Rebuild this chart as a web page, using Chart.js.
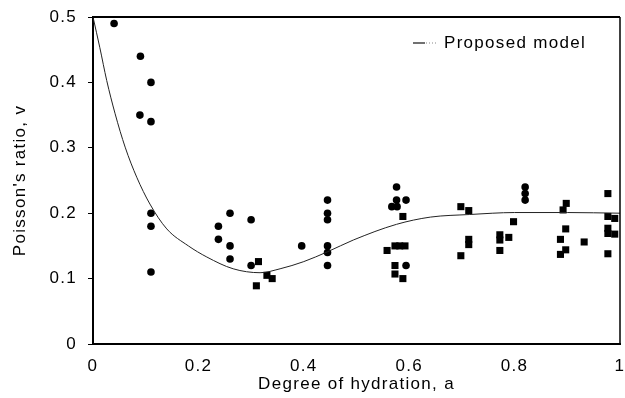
<!DOCTYPE html>
<html>
<head>
<meta charset="utf-8">
<script src="https://cdn.jsdelivr.net/npm/chart.js@4.4.1/dist/chart.umd.min.js"></script>
<style>
  html, body { margin: 0; padding: 0; background: #fff; }
  #wrap { width: 625px; height: 398px; }
</style>
</head>
<body>
<div id="wrap"><canvas id="chart" width="625" height="398"></canvas></div>
<script>
// measured points, circles
const circleAlpha = [0.04, 0.09, 0.11, 0.089, 0.11, 0.11, 0.11, 0.11, 0.238, 0.26, 0.238, 0.26, 0.26, 0.30, 0.30,
    0.396, 0.445, 0.445, 0.445, 0.445, 0.445, 0.445, 0.576, 0.576, 0.594, 0.567, 0.577, 0.594, 0.82, 0.82, 0.82];
const circleNu = [0.49, 0.44, 0.40, 0.35, 0.34, 0.20, 0.18, 0.11, 0.18, 0.20, 0.16, 0.15, 0.13, 0.19, 0.12,
    0.15, 0.22, 0.20, 0.19, 0.15, 0.14, 0.12, 0.24, 0.22, 0.22, 0.21, 0.21, 0.12, 0.24, 0.23, 0.22];

// measured points, squares
const squareAlpha = [0.314, 0.31, 0.33, 0.34, 0.588, 0.558, 0.573, 0.582, 0.592, 0.573, 0.573, 0.588,
    0.698, 0.713, 0.713, 0.713, 0.698, 0.798, 0.772, 0.789, 0.772, 0.772,
    0.898, 0.892, 0.897, 0.887, 0.932, 0.897, 0.887, 0.977, 0.977, 0.99, 0.977, 0.977, 0.99, 0.977];
const squareNu = [0.126, 0.089, 0.105, 0.10, 0.195, 0.143, 0.15, 0.15, 0.15, 0.12, 0.107, 0.10,
    0.21, 0.204, 0.16, 0.152, 0.135, 0.187, 0.167, 0.163, 0.159, 0.143,
    0.215, 0.205, 0.176, 0.16, 0.156, 0.144, 0.137, 0.23, 0.195, 0.192, 0.177, 0.169, 0.168, 0.138];

// proposed model curve
const modelAlpha = [0, 0.013, 0.026, 0.042, 0.061, 0.083, 0.108, 0.14, 0.181, 0.216, 0.266, 0.317, 0.355, 0.40, 0.445, 0.494, 0.576, 0.64, 0.715, 0.80, 0.90, 1.0];
const modelNu = [0.50, 0.453, 0.403, 0.352, 0.301, 0.255, 0.214, 0.176, 0.150, 0.133, 0.115, 0.109, 0.115, 0.126, 0.141, 0.159, 0.183, 0.194, 0.198, 0.201, 0.201, 0.20];

const xTicks = [0, 0.2, 0.4, 0.6, 0.8, 1];
const yTicks = [0, 0.1, 0.2, 0.3, 0.4, 0.5];

const toXY = (xs, ys) => xs.map((x, i) => ({ x: x, y: ys[i] }));
const FONT = '"Liberation Sans", Arial, sans-serif';

// wide letter spacing like the scanned figure
const spacing = {
    id: 'spacing',
    beforeLayout(chart) { chart.ctx.letterSpacing = '1.3px'; },
    beforeDraw(chart) { chart.ctx.letterSpacing = '1.3px'; }
};

// top/right frame of the plot box and the legend entry
const frame = {
    id: 'frame',
    afterDraw(chart) {
        const a = chart.chartArea;
        const ctx = chart.ctx;
        ctx.save();
        ctx.strokeStyle = '#000';
        ctx.lineWidth = 2;
        ctx.beginPath();
        ctx.moveTo(a.left, a.top);
        ctx.lineTo(a.right, a.top);
        ctx.stroke();
        ctx.lineWidth = 1.5;
        ctx.beginPath();
        ctx.moveTo(a.right, a.top);
        ctx.lineTo(a.right, a.bottom);
        ctx.stroke();

        // legend
        const ly = a.top + 26;
        const lx = a.right - 207;
        ctx.lineWidth = 1.2;
        ctx.strokeStyle = '#111';
        ctx.beginPath();
        ctx.moveTo(lx, ly);
        ctx.lineTo(lx + 12, ly);
        ctx.stroke();
        ctx.strokeStyle = '#888';
        ctx.setLineDash([1, 2]);
        ctx.beginPath();
        ctx.moveTo(lx + 13, ly);
        ctx.lineTo(lx + 23, ly);
        ctx.stroke();
        ctx.setLineDash([]);
        ctx.fillStyle = '#000';
        ctx.font = '17px ' + FONT;
        ctx.textBaseline = 'middle';
        ctx.textAlign = 'left';
        ctx.fillText(chart.data.datasets[0].label, lx + 31, ly);
        ctx.restore();
    }
};

Chart.defaults.font.family = FONT;
Chart.defaults.color = '#000';

new Chart(document.getElementById('chart'), {
    type: 'scatter',
    data: {
        datasets: [
            {
                label: 'Proposed model',
                type: 'line',
                data: toXY(modelAlpha, modelNu),
                borderColor: '#222',
                borderWidth: 1,
                pointRadius: 0,
                cubicInterpolationMode: 'monotone',
                fill: false
            },
            {
                label: 'circles',
                data: toXY(circleAlpha, circleNu),
                pointStyle: 'circle',
                pointRadius: 3.8,
                backgroundColor: '#000',
                borderColor: '#000',
                borderWidth: 0
            },
            {
                label: 'squares',
                data: toXY(squareAlpha, squareNu),
                pointStyle: 'rect',
                pointRadius: 5,
                backgroundColor: '#000',
                borderColor: '#000',
                borderWidth: 0
            }
        ]
    },
    options: {
        responsive: false,
        animation: false,
        layout: { padding: { top: 17, right: 5, left: 0, bottom: 0 } },
        plugins: {
            legend: { display: false },
            tooltip: { enabled: false }
        },
        scales: {
            x: {
                type: 'linear',
                min: 0,
                max: 1,
                afterBuildTicks: axis => { axis.ticks = xTicks.map(v => ({ value: v })); },
                afterFit: axis => { axis.height = 54; axis.paddingLeft = 0; axis.paddingRight = 0; },
                ticks: { font: { size: 17 }, padding: 12, maxRotation: 0, callback: v => String(v) },
                grid: { display: true, drawOnChartArea: false, drawTicks: false, color: '#000' },
                border: { display: true, color: '#000', width: 2 },
                title: { display: true, text: 'Degree of hydration, a', font: { size: 17 }, padding: { top: 0, bottom: 3 } }
            },
            y: {
                type: 'linear',
                min: 0,
                max: 0.5,
                afterBuildTicks: axis => { axis.ticks = yTicks.map(v => ({ value: v })); },
                afterFit: axis => { axis.width = 93; axis.paddingTop = 0; axis.paddingBottom = 0; },
                ticks: { font: { size: 17 }, padding: 11, callback: v => String(v) },
                grid: { display: true, drawOnChartArea: false, drawTicks: true, tickLength: 5, color: '#000' },
                border: { display: true, color: '#000', width: 2 },
                title: { display: true, text: "Poisson's ratio, v", font: { size: 17 }, padding: { top: 10, bottom: 0 } }
            }
        }
    },
    plugins: [spacing, frame]
});
</script>
</body>
</html>
